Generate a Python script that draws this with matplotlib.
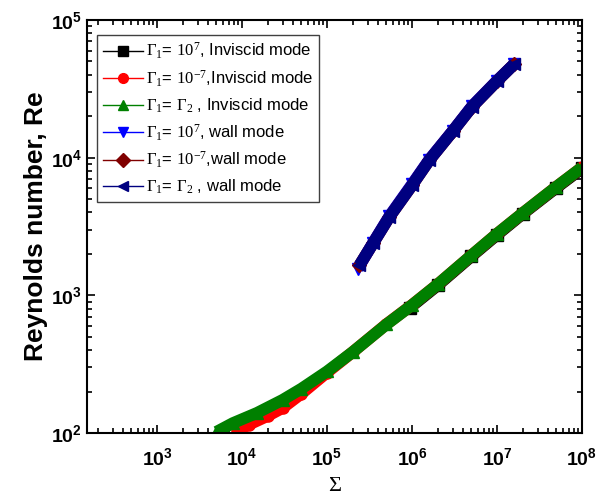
import matplotlib
matplotlib.use("Agg")
import matplotlib.pyplot as plt
from matplotlib.lines import Line2D
from matplotlib.ticker import LogLocator, FuncFormatter, NullFormatter
import numpy as np

plt.rcParams["font.family"] = ["Liberation Sans", "DejaVu Sans"]
plt.rcParams["mathtext.fontset"] = "custom"
plt.rcParams["mathtext.rm"] = "Liberation Serif"
plt.rcParams["mathtext.it"] = "Liberation Serif:italic"
plt.rcParams["mathtext.bf"] = "Liberation Sans:bold"
plt.rcParams["mathtext.sf"] = "Liberation Sans"

# Inviscid mode branches
inv_g7_sigma = [9.5e5, 2.0e6, 5.0e6, 1.0e7, 2.0e7, 5.0e7, 1.0e8]
inv_g7_re = [815, 1180, 1920, 2750, 3900, 6050, 8350]

inv_gm7_sigma = [8.7e3, 1.2e4, 2.0e4, 3.0e4, 5.0e4, 1.0e5, 2.0e5, 5.0e5, 1.0e6,
                 2.0e6, 5.0e6, 1.0e7, 2.0e7, 5.0e7, 1.0e8]
inv_gm7_re = [103, 115, 133, 152, 193, 275, 387, 617, 852, 1200, 1950, 2800,
              3950, 6150, 8500]

inv_geq_sigma = [5.0e3, 7.8e3, 1.5e4, 3.0e4, 5.0e4, 1.0e5, 2.0e5, 5.0e5, 1.0e6,
                 2.0e6, 5.0e6, 1.0e7, 2.0e7, 5.0e7, 1.0e8]
inv_geq_re = [102, 118, 140, 174, 210, 280, 387, 615, 850, 1200, 1950, 2800,
              3950, 6150, 8500]

# Wall mode branches
wall_g7_sigma = [2.3e5, 3.5e5, 5.4e5, 1.0e6, 1.6e6, 3.0e6, 5.1e6, 1.0e7, 1.6e7]
wall_g7_re = [1560, 2420, 3750, 6400, 9700, 15600, 23700, 36300, 48000]

wall_gm7_sigma = [2.4e5, 3.5e5, 5.4e5, 1.0e6, 1.6e6, 3.0e6, 5.1e6, 1.0e7, 1.6e7]
wall_gm7_re = [1650, 2400, 3700, 6300, 9600, 15500, 23500, 36000, 48000]

wall_geq_sigma = [2.4e5, 3.5e5, 5.4e5, 1.0e6, 1.6e6, 3.0e6, 5.1e6, 1.0e7, 1.6e7]
wall_geq_re = [1650, 2400, 3700, 6300, 9600, 15500, 23500, 36000, 48000]

series = [
    (inv_g7_sigma, inv_g7_re, "#000000", "s", 8.5, r"$\Gamma_{1}$= $10^{7}$, Inviscid mode"),
    (inv_gm7_sigma, inv_gm7_re, "#FF0000", "o", 8, r"$\Gamma_{1}$= $10^{-7}$,Inviscid mode"),
    (inv_geq_sigma, inv_geq_re, "#008000", "^", 9, r"$\Gamma_{1}$= $\Gamma_{2}$ , Inviscid mode"),
    (wall_g7_sigma, wall_g7_re, "#0000FF", "v", 9, r"$\Gamma_{1}$= $10^{7}$, wall mode"),
    (wall_gm7_sigma, wall_gm7_re, "#800000", "D", 7, r"$\Gamma_{1}$= $10^{-7}$,wall mode"),
    (wall_geq_sigma, wall_geq_re, "#000080", "<", 9, r"$\Gamma_{1}$= $\Gamma_{2}$ , wall mode"),
]

fig = plt.figure(figsize=(5.96, 5.01), dpi=100)
ax = fig.add_axes([0.146, 0.1357, 0.8305, 0.8243])

handles = []
for sx, sy, col, mk, ms, lab in series:
    ax.plot(sx, sy, color=col, lw=8.5, marker=mk, ms=ms, mec=col, mfc=col,
            solid_capstyle="butt", solid_joinstyle="round")
    handles.append(Line2D([], [], color=col, lw=1.0, marker=mk, ms=7,
                          mec=col, mfc=col, label=lab))

ax.set_xscale("log")
ax.set_yscale("log")
ax.set_xlim(150, 1e8)
ax.set_ylim(100, 1e5)

fmt = FuncFormatter(lambda v, pos: r"$\mathbf{10^{%d}}$" % round(np.log10(v)))
for axis in (ax.xaxis, ax.yaxis):
    axis.set_major_locator(LogLocator(base=10, numticks=12))
    axis.set_minor_locator(LogLocator(base=10, subs=np.arange(2, 10), numticks=12))
    axis.set_major_formatter(fmt)
    axis.set_minor_formatter(NullFormatter())

ax.tick_params(which="both", direction="in", top=True, right=True, width=1.2,
               labelsize=14)
ax.tick_params(which="major", length=6)
ax.tick_params(which="minor", length=3.5)
ax.tick_params(axis="x", pad=10)
for sp in ax.spines.values():
    sp.set_linewidth(1.5)

ax.set_xlabel("Σ", family="Liberation Serif", fontsize=16, labelpad=6)
ax.set_ylabel("Reynolds number, Re", fontsize=19, fontweight="bold", labelpad=2)

leg = ax.legend(handles=handles, loc="upper left", bbox_to_anchor=(0.02, 0.964),
                borderaxespad=0, fontsize=12, handlelength=2.4, handletextpad=0.2,
                labelspacing=0.45, borderpad=0.35, fancybox=False, framealpha=1)
leg.get_frame().set_edgecolor("#404040")
leg.get_frame().set_linewidth(1.0)

fig.savefig("out.png", dpi=100)
